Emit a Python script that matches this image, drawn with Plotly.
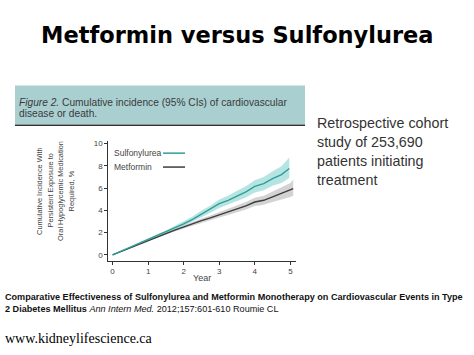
import plotly.graph_objects as go

W, H = 474, 355

# ---- data ----
years_su = [0, 0.25, 0.5, 0.75, 1.0, 1.25, 1.5, 1.75, 2.0, 2.25, 2.5, 2.75,
            3.0, 3.25, 3.5, 3.75, 4.0, 4.25, 4.5, 4.75, 4.97]
su_mean = [0, 0.35, 0.70, 1.05, 1.40, 1.72, 2.05, 2.40, 2.78, 3.20, 3.68, 4.10,
           4.60, 4.90, 5.30, 5.65, 6.15, 6.40, 6.85, 7.20, 7.75]
su_low = [0, 0.32, 0.65, 0.98, 1.30, 1.60, 1.90, 2.22, 2.55, 2.95, 3.38, 3.78,
          4.22, 4.50, 4.85, 5.15, 5.60, 5.80, 6.20, 6.45, 6.90]
su_high = [0, 0.38, 0.76, 1.12, 1.50, 1.85, 2.20, 2.60, 3.00, 3.45, 3.98, 4.42,
           4.98, 5.32, 5.75, 6.15, 6.70, 7.00, 7.50, 7.95, 8.75]

years_met = [0, 0.25, 0.5, 0.75, 1.0, 1.25, 1.5, 1.75, 2.0, 2.25, 2.5, 2.75,
             3.0, 3.25, 3.5, 3.75, 4.0, 4.25, 4.5, 4.75, 5.0, 5.08]
met_mean = [0, 0.33, 0.66, 1.00, 1.33, 1.62, 1.92, 2.22, 2.52, 2.80, 3.08, 3.32,
            3.58, 3.85, 4.10, 4.40, 4.75, 4.90, 5.20, 5.50, 5.80, 5.95]
met_low = [0, 0.31, 0.62, 0.95, 1.27, 1.55, 1.83, 2.10, 2.38, 2.64, 2.90, 3.12,
           3.35, 3.58, 3.80, 4.07, 4.38, 4.50, 4.75, 5.00, 5.20, 5.30]
met_high = [0, 0.35, 0.70, 1.05, 1.40, 1.70, 2.01, 2.34, 2.66, 2.97, 3.27, 3.53,
            3.82, 4.12, 4.42, 4.75, 5.12, 5.32, 5.68, 6.05, 6.45, 6.75]

series_names = ["Sulfonylurea", "Metformin"]
x_ticks = [0, 1, 2, 3, 4, 5]
y_ticks = [0, 2, 4, 6, 8, 10]

y_title_lines = ["Cumulative Incidence With", "Persistent Exposure to",
                 "Oral Hypoglycemic Medication", "Required, %"]
side_lines = ["Retrospective cohort", "study of 253,690",
              "patients initiating", "treatment"]

TEAL = "#2f9e98"
TEAL_BAND = "rgba(120,205,203,0.55)"
GREY = "#3c3c3c"
GREY_BAND = "rgba(175,175,175,0.55)"


def px(x):
    return x / W


def py(y):
    return 1 - y / H


fig = go.Figure()

# confidence bands
fig.add_trace(go.Scatter(
    x=years_met + years_met[::-1], y=met_high + met_low[::-1],
    fill="toself", fillcolor=GREY_BAND, line=dict(width=0),
    hoverinfo="skip", showlegend=False))
fig.add_trace(go.Scatter(
    x=years_su + years_su[::-1], y=su_high + su_low[::-1],
    fill="toself", fillcolor=TEAL_BAND, line=dict(width=0),
    hoverinfo="skip", showlegend=False))
# mean lines
fig.add_trace(go.Scatter(x=years_met, y=met_mean, mode="lines",
                         line=dict(color=GREY, width=1.4),
                         name=series_names[1], showlegend=False))
fig.add_trace(go.Scatter(x=years_su, y=su_mean, mode="lines",
                         line=dict(color=TEAL, width=1.4),
                         name=series_names[0], showlegend=False))

axis_font = dict(family="Liberation Sans", size=8, color="#444")

fig.update_layout(
    width=W, height=H,
    margin=dict(l=0, r=0, t=0, b=0),
    paper_bgcolor="white", plot_bgcolor="white",
    xaxis=dict(domain=[px(108.3), px(295.7)], range=[-0.12, 5.15],
               showline=True, linecolor="#333", linewidth=1,
               ticks="outside", ticklen=3, tickcolor="#333", tickwidth=1,
               tickvals=x_ticks, tickfont=axis_font,
               showgrid=False, zeroline=False),
    yaxis=dict(domain=[py(260), py(140)], range=[-0.5, 10.2],
               showline=True, linecolor="#333", linewidth=1,
               ticks="outside", ticklen=3, tickcolor="#333", tickwidth=1,
               tickvals=y_ticks, tickfont=axis_font,
               showgrid=False, zeroline=False),
)

shapes = [
    dict(type="rect", xref="paper", yref="paper",
         x0=px(15), x1=px(305), y0=py(123), y1=py(84),
         fillcolor="#a9cfd1", line=dict(width=0), layer="below"),
    dict(type="line", xref="paper", yref="paper",
         x0=px(15), x1=px(305), y0=py(124), y1=py(124),
         line=dict(color="#333", width=1.5)),
    dict(type="line", xref="paper", yref="paper",
         x0=px(163), x1=px(185), y0=py(152), y1=py(152),
         line=dict(color=TEAL, width=1.5)),
    dict(type="line", xref="paper", yref="paper",
         x0=px(163), x1=px(185), y0=py(166), y1=py(166),
         line=dict(color=GREY, width=1.5)),
]
fig.update_layout(shapes=shapes)


def ann(x, y, text, size, xanchor="left", family="Liberation Sans", color="#222", **kw):
    fig.add_annotation(x=px(x), y=py(y), xref="paper", yref="paper",
                       text=text, showarrow=False, xanchor=xanchor, yanchor="middle",
                       font=dict(family=family, size=size, color=color), **kw)


ann(237, 33, "<b>Metformin versus Sulfonylurea</b>", 22.5, xanchor="center",
    family="DejaVu Sans", color="#000")

ann(17, 101, "<i>Figure 2.</i> Cumulative incidence (95% CIs) of cardiovascular", 10.2,
    color="#3a3a3a")
ann(17, 112, "disease or death.", 10.2, color="#3a3a3a")

for i, line in enumerate(side_lines):
    ann(315, 122 + i * 19, line, 14.3, color="#333")

for i, line in enumerate(y_title_lines):
    ann(40 + i * 10.5, 190, line, 7.4, xanchor="center", color="#444", textangle=-90)

ann(112, 152, series_names[0], 8.5, color="#444")
ann(112, 166, series_names[1], 8.5, color="#444")

ann(201.7, 278, "Year", 9, xanchor="center", color="#444")

ann(3, 297, "<b>Comparative Effectiveness of Sulfonylurea and Metformin Monotherapy on Cardiovascular Events in Type</b>",
    9.1, color="#111")
ann(3, 309, "<b>2 Diabetes Mellitus</b> <i>Ann Intern Med.</i> 2012;157:601-610 Roumie CL",
    9.1, color="#111")

ann(3, 338, "www.kidneylifescience.ca", 14, family="Liberation Serif", color="#000")

fig.write_html("out.html",
               config={"displayModeBar": False},
               post_script="document.body.style.margin='0';document.body.style.padding='0';")
